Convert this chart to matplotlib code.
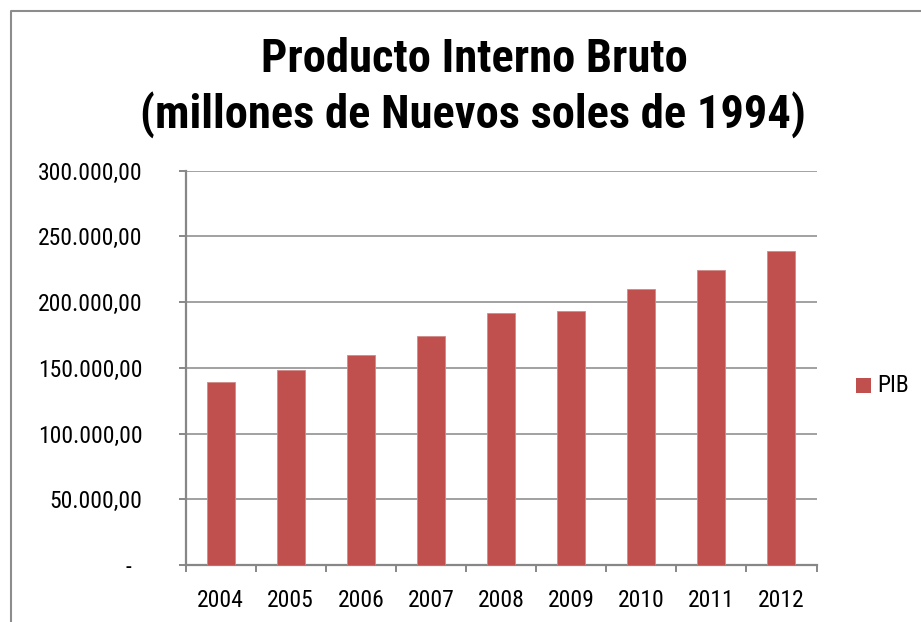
import matplotlib
matplotlib.use('Agg')
import matplotlib.pyplot as plt
from matplotlib.lines import Line2D
import numpy as np

W, H, DPI = 921, 622, 100

years = ['2004', '2005', '2006', '2007', '2008', '2009', '2010', '2011', '2012']
pib = [139141, 148640, 160145, 174407, 191505, 193155, 210143, 224669, 238752]
yticks = [0, 50000, 100000, 150000, 200000, 250000, 300000]
ytick_labels = ['-  ', '50.000,00', '100.000,00', '150.000,00',
                '200.000,00', '250.000,00', '300.000,00']

BAR = '#C0504D'
GRID = '#878787'
TXT = '#000000'
FONT = ['Roboto Condensed', 'DejaVu Sans']

fig = plt.figure(figsize=(W/DPI, H/DPI), dpi=DPI)
fig.patch.set_facecolor('white')

# plot area in pixels
L, R, T, B = 185.5, 816.5, 170.7, 565.0
ax = fig.add_axes([L/W, (H-B)/H, (R-L)/W, (B-T)/H])

x = np.arange(len(years))
ax.bar(x, pib, width=0.4, color=BAR, edgecolor='#D08a88', linewidth=0.6, zorder=3)

ax.set_xlim(-0.5, len(years) - 0.5)
ax.set_ylim(0, 300000)
ax.set_yticks(yticks)
ax.set_yticklabels(ytick_labels)
ax.set_xticks(x)
ax.set_xticklabels(years)
ax.set_xticks(np.arange(-0.5, len(years)), minor=True)

ax.yaxis.grid(True, color=GRID, lw=1.1, zorder=0)
ax.set_axisbelow(True)
for s in ['top', 'right']:
    ax.spines[s].set_visible(False)
for s in ['left', 'bottom']:
    ax.spines[s].set_color(GRID)
    ax.spines[s].set_linewidth(1.6)

ax.tick_params(axis='y', length=5, width=1.4, color=GRID, pad=26,
               labelsize=17, labelcolor=TXT)
ax.tick_params(axis='x', which='major', length=0, pad=17,
               labelsize=17, labelcolor=TXT)
ax.tick_params(axis='x', which='minor', length=5, width=1.4, color=GRID)
for lab in ax.get_xticklabels() + ax.get_yticklabels():
    lab.set_family(FONT)

# title
fig.text(474/W, 1 - 72/H, 'Producto Interno Bruto', fontsize=33.5,
         fontweight='bold', family=FONT, ha='center', va='baseline', color=TXT)
fig.text(473/W, 1 - 128/H, '(millones de Nuevos soles de 1994)', fontsize=33.5,
         fontweight='bold', family=FONT, ha='center', va='baseline', color=TXT)

# legend
fig.patches.append(plt.Rectangle((856/W, 1 - 393/H), 15/W, 15/H,
                   transform=fig.transFigure, fc=BAR, ec='none'))
fig.text(877/W, 1 - 392/H, 'PIB', fontsize=17, family=FONT,
         ha='left', va='baseline', color=TXT)

# chart area frame (extends past the image edges)
fig.add_artist(Line2D([10.5/W, 10.5/W, 1.0], [0.0, 1 - 10.5/H, 1 - 10.5/H],
               transform=fig.transFigure, color='#8C8C8C', lw=1.5))

plt.savefig('out.png', dpi=DPI, facecolor='white')
